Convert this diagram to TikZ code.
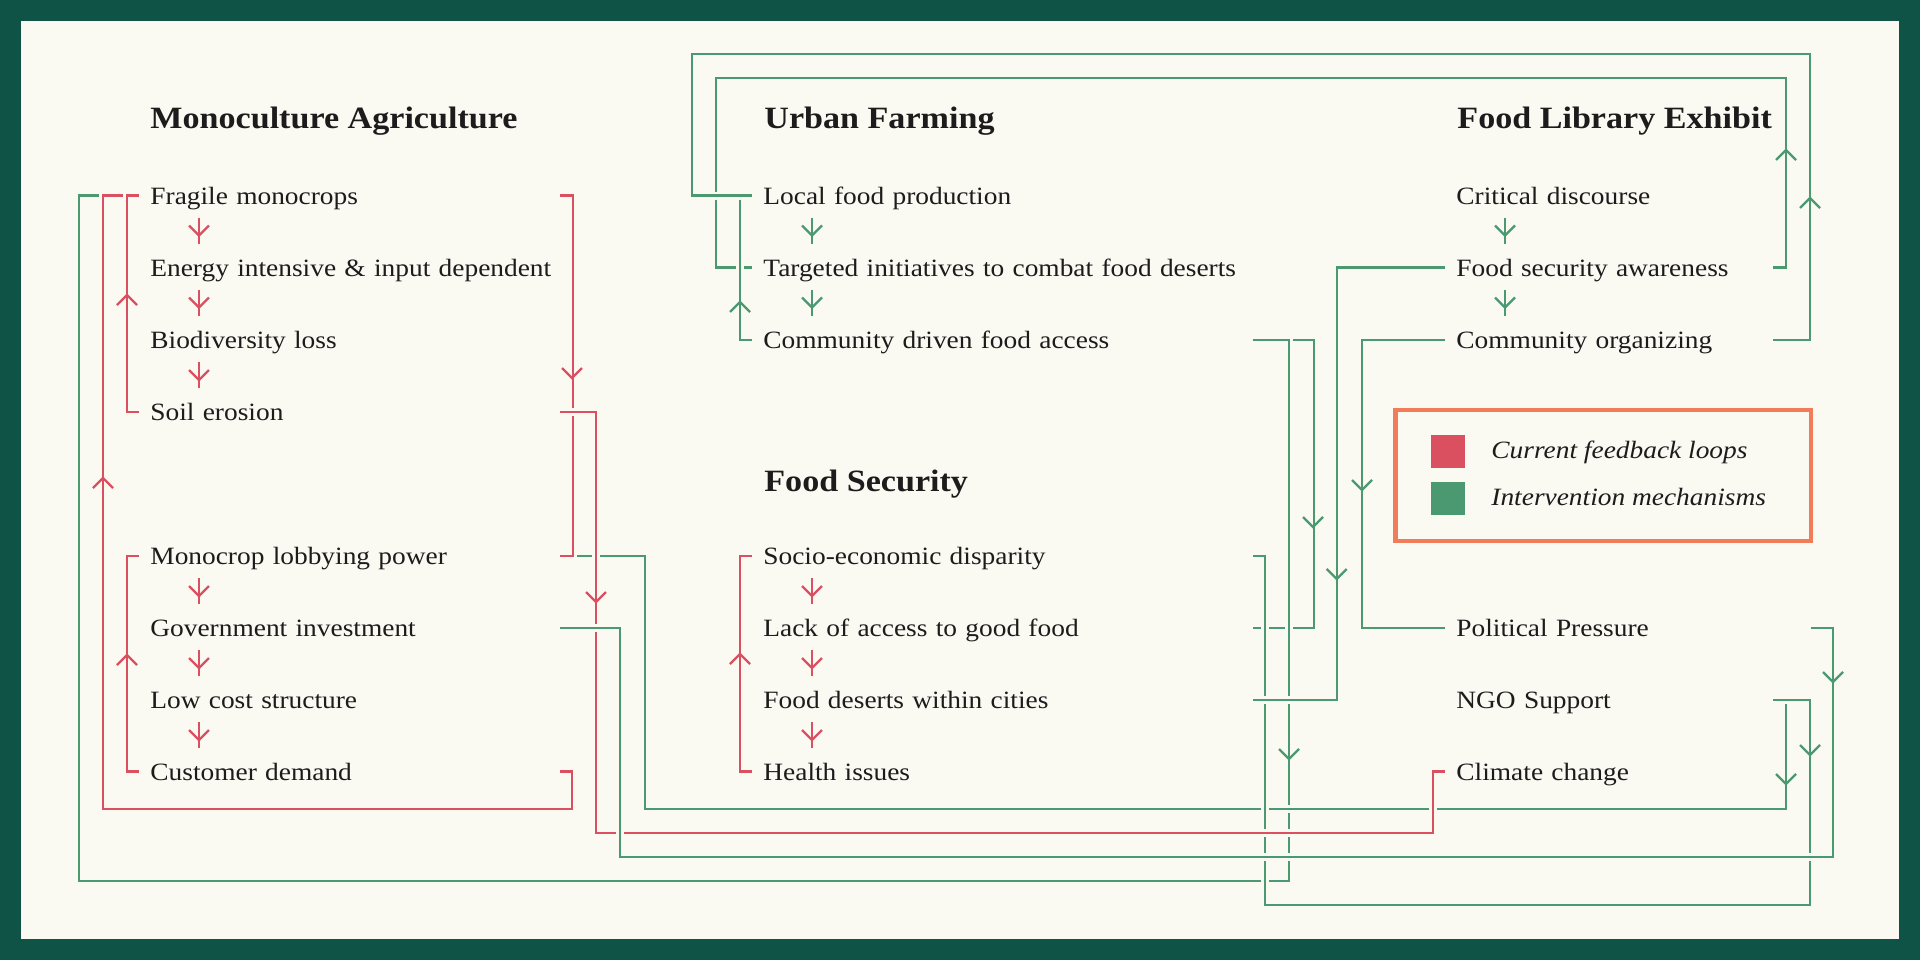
\documentclass[tikz,border=0pt]{standalone}
\usepackage{fontspec}
\setmainfont{Liberation Serif}[FakeStretch=1.1]
\usetikzlibrary{calc}
\definecolor{framec}{HTML}{0F5246}
\definecolor{bgc}{HTML}{FAF9F2}
\definecolor{rl}{HTML}{DA5060}
\definecolor{gl}{HTML}{4A9970}
\definecolor{legc}{HTML}{F27B5A}
\definecolor{ink}{HTML}{1C1C1C}
\newcommand\mybody{\fontsize{12.45pt}{15pt}\selectfont}
\newcommand\myhead{\fontsize{15.5pt}{18pt}\selectfont\bfseries}
\newcommand\arrD[2]{\draw[tipline,#1] (#2) ++(-10,-10) -- ++(10,10) -- ++(10,-10);}
\newcommand\arrU[2]{\draw[tipline,#1] (#2) ++(-10,10) -- ++(10,-10) -- ++(10,10);}
\tikzset{
  conn/.style={line width=1.2pt, preaction={draw=bgc, line width=4pt}},
  rcon/.style={conn, draw=rl},
  gcon/.style={conn, draw=gl},
  tipline/.style={line width=1.2pt},
  stepln/.style={line width=1.2pt},
  item/.style={anchor=west, align=left, inner xsep=5.5pt, inner ysep=0pt,
    text height=10pt, text depth=1.4pt, font=\mybody, text=ink},
  itemA/.style={item, text width=199pt},
  itemB/.style={item, text width=239pt},
  itemC/.style={item, text width=152.75pt},
  itemP/.style={item, text width=171.5pt},
  head/.style={anchor=base west, inner sep=0pt, font=\myhead, text=ink},
  legtext/.style={anchor=base west, inner sep=0pt, font=\mybody\itshape, text=ink}
}
\begin{document}
\begin{tikzpicture}[x=0.5pt, y=-0.5pt]
\useasboundingbox (0,0) rectangle (1920,960);
\fill[framec] (0,0) rectangle (1920,960);
\fill[bgc] (21,21) rectangle (1899,939);

% headings
\node[head] (hMA) at (150,128.3) {Monoculture Agriculture};
\node[head] (hUF) at (764,128.3) {Urban Farming};
\node[head] (hFL) at (1457,128.3) {Food Library Exhibit};
\node[head] (hFS) at (764,491.5) {Food Security};

% column A
\node[itemA] (fm)  at (139,195.5) {\mbox{Fragile monocrops}};
\node[itemA] (ei)  at (139,267.5) {\mbox{Energy intensive \& input dependent}};
\node[itemA] (bl)  at (139,340) {\mbox{Biodiversity loss}};
\node[itemA] (se)  at (139,412) {\mbox{Soil erosion}};
\node[itemA] (mlp) at (139,556) {\mbox{Monocrop lobbying power}};
\node[itemA] (gi)  at (139,628) {\mbox{Government investment}};
\node[itemA] (lcs) at (139,700) {\mbox{Low cost structure}};
\node[itemA] (cdm) at (139,771.5) {\mbox{Customer demand}};
% column B
\node[itemB] (lf)  at (752,195.5) {\mbox{Local food production}};
\node[itemB] (ti)  at (752,267.5) {\mbox{Targeted initiatives to combat food deserts}};
\node[itemB] (cd)  at (752,340) {\mbox{Community driven food access}};
\node[itemB] (sed) at (752,556) {\mbox{Socio-economic disparity}};
\node[itemB] (la)  at (752,628) {\mbox{Lack of access to good food}};
\node[itemB] (fd)  at (752,700) {\mbox{Food deserts within cities}};
\node[itemB] (hi)  at (752,771.5) {\mbox{Health issues}};
% column C
\node[itemC] (crd) at (1445,195.5) {\mbox{Critical discourse}};
\node[itemC] (fsa) at (1445,267.5) {\mbox{Food security awareness}};
\node[itemC] (co)  at (1445,340) {\mbox{Community organizing}};
\node[itemP] (pp)  at (1445,628) {\mbox{Political Pressure}};
\node[itemC] (ngo) at (1445,700) {\mbox{NGO Support}};
\node[itemC] (cc)  at (1445,771.5) {\mbox{Climate change}};

% connectors (order matters for the gaps)
\draw[gcon] (fsa.east) -| (1786,78) -- (716,78) |- (ti.west);
\draw[gcon] (cd.west) -- ++(-12,0) |- (lf.west);
\draw[gcon] (co.east) -| (1810,54) -- (692,54) |- (lf.west);
\draw[gcon] (cd.east) -- ++(61,0) |- (la.east);
\draw[gcon] (cd.east) -| (1289,881) -- (79,881) |- (fm.west);
\draw[gcon] (ngo.east) -| (1786,809) -- (645,809) |- (mlp.east);
\draw[gcon] (ngo.east) -| (1810,905) -- (1265,905) |- (sed.east);
\draw[rcon] (fm.east) -- ++(13,0) |- (mlp.east);
\draw[rcon] (se.east) -| (596,833) -- (1433,833) |- (cc.west);
\draw[gcon] (fsa.west) -- ++(-108.3,0) |- (fd.east);
\draw[gcon] (co.west) -- ++(-83,0) |- (pp.west);
\draw[gcon] (pp.east) -| (1833,857) -- (620,857) |- (gi.east);
\draw[rcon] (cdm.east) -| (572,809) -- (103,809) |- (fm.west);
\draw[rcon] (se.west) -- ++(-12,0) |- (fm.west);
\draw[rcon] (cdm.west) -- ++(-12,0) |- (mlp.west);
\draw[rcon] (hi.west) -- ++(-12,0) |- (sed.west);

% arrowheads on connectors
\arrU{rl}{127,295}
\arrU{rl}{127,655}
\arrU{rl}{103,478}
\arrD{rl}{572,378}
\arrD{rl}{596,602}
\arrU{rl}{740,654}
\arrU{gl}{1810,198}
\arrU{gl}{1786,150}
\arrU{gl}{740,302}
\arrD{gl}{1289,759}
\arrD{gl}{1313,527}
\arrD{gl}{1336.7,579}
\arrD{gl}{1362,490}
\arrD{gl}{1810,755}
\arrD{gl}{1786,784}
\arrD{gl}{1833,682}

% step arrows inside columns
\foreach \a/\b/\c in {fm/ei/rl, ei/bl/rl, bl/se/rl, mlp/gi/rl, gi/lcs/rl, lcs/cdm/rl,
                      sed/la/rl, la/fd/rl, fd/hi/rl, lf/ti/gl, ti/cd/gl, crd/fsa/gl, fsa/co/gl}{
  \draw[stepln,\c] ([shift={(60,22)}]\a.west) -- ([shift={(60,-24)}]\b.west);
  \arrD{\c}{[shift={(60,40)}]\a.west}
}

% legend
\node[draw=legc, line width=2.25pt, minimum width=207.75pt, minimum height=65.5pt, inner sep=0pt] (leg) at (1603.25,475.5) {};
\node[fill=rl, minimum size=16.75pt, inner sep=0pt] (lr) at (1447.75,451.5) {};
\node[fill=gl, minimum size=16.75pt, inner sep=0pt] (lg) at (1447.75,498.5) {};
\node[legtext] (lt1) at (1491,458.5) {Current feedback loops};
\node[legtext] (lt2) at (1491,505.5) {Intervention mechanisms};
\end{tikzpicture}
\end{document}
